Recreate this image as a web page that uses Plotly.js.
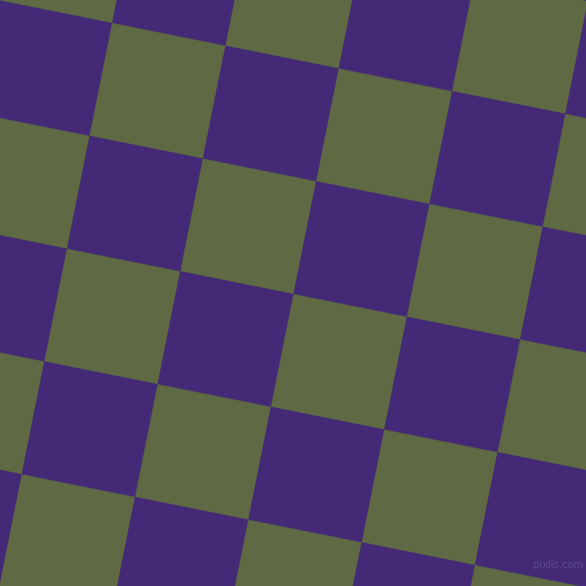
<!DOCTYPE html>
<html>
<head>
<meta charset="utf-8">
<script src="https://cdn.plot.ly/plotly-3.0.1.min.js"></script>
<style>
  html, body { margin: 0; padding: 0; background: #432976; }
  #chart { width: 586px; height: 586px; }
</style>
</head>
<body>
<div id="chart"></div>
<script>
// board cells, column and row index of each square in the tilted grid
let colIdx = [-2, -1, 0, 1, 2, 3, 4, 5]
let rowIdx = [-2, -1, 0, 1, 2, 3, 4, 5, 6]
// colour of a cell picked by parity of col + row
let cellColors = ["#5f6944", "#432976"]
let watermark = "pixlis.com"

// grid geometry (pixel space)
let origin = [112.3, 23.3]
let stepCol = [113.3, 22.7]
let stepRow = [-22.6, 112.8]

function corner(c, r) {
    return [origin[0] + c * stepCol[0] + r * stepRow[0],
            origin[1] + c * stepCol[1] + r * stepRow[1]]
}

let traces = []
for (let r of rowIdx) {
    for (let c of colIdx) {
        let pts = [corner(c, r), corner(c + 1, r), corner(c + 1, r + 1), corner(c, r + 1), corner(c, r)]
        let color = cellColors[((c + r) % 2 + 2) % 2]
        traces.push({
            x: pts.map(p => p[0]),
            y: pts.map(p => p[1]),
            mode: "lines",
            type: "scatter",
            fill: "toself",
            fillcolor: color,
            line: { color: color, width: 0.5 },
            hoverinfo: "skip",
            showlegend: false
        })
    }
}

let layout = {
    width: 586,
    height: 586,
    margin: { l: 0, r: 0, t: 0, b: 0, pad: 0 },
    paper_bgcolor: "#432976",
    plot_bgcolor: "#432976",
    xaxis: { range: [0, 586], visible: false, fixedrange: true },
    yaxis: { range: [586, 0], visible: false, fixedrange: true },
    annotations: [{
        text: watermark,
        x: 558, y: 564,
        xref: "x", yref: "y",
        showarrow: false,
        font: { family: "DejaVu Sans", size: 10, color: "rgba(120,100,170,0.55)" }
    }]
}

Plotly.newPlot("chart", traces, layout, { displayModeBar: false, staticPlot: true })
</script>
</body>
</html>
